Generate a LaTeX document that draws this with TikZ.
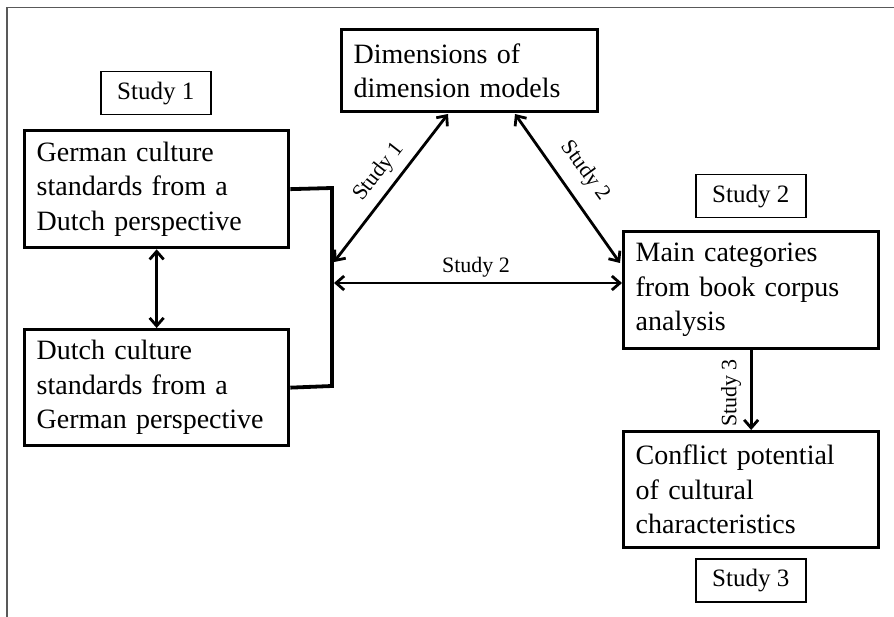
\documentclass[tikz,border=0pt]{standalone}
\usepackage{fontspec}
\setmainfont{Liberation Serif}
\usetikzlibrary{arrows.meta}
\begin{document}
\begin{tikzpicture}[x=1pt,y=-1pt,
  bigbox/.style={draw, line width=3.3pt, anchor=north west, align=left, inner xsep=12pt, inner ysep=0pt, font=\fontsize{28}{34.5}\selectfont},
  tagbox/.style={draw, line width=1.5pt, anchor=north west, minimum width=110pt, minimum height=43pt, inner sep=0pt, font=\fontsize{25}{30}\selectfont},
  tipb/.tip={Straight Barb[length=8pt,width=14pt,line width=2.8pt]},
  conn/.style={line width=2.8pt, tipb-tipb},
  conn1/.style={line width=2.8pt, -tipb},
  lab/.style={font=\fontsize{22}{26}\selectfont, inner sep=0pt}]
\useasboundingbox (0,0) rectangle (894,617);
% frame
\draw[black!65, line width=1.3pt] (7,617) -- (7,7.5) -- (894,7.5);
% tag boxes
\node[tagbox] (t1) at (100,71) {Study 1};
\node[tagbox] (t2) at (695,174) {Study 2};
\node[tagbox] (t3) at (695,558) {Study 3};
% main boxes
\node[bigbox, text width=240pt, minimum height=117pt] (g) at (23,129) {German culture\\standards from a\\Dutch perspective};
\node[bigbox, text width=240pt, minimum height=116pt] (d) at (23,328) {Dutch culture\\standards from a\\German perspective};
\node[bigbox, text width=232pt, minimum height=82pt] (dm) at (340,28) {Dimensions of\\dimension models};
\node[bigbox, text width=231pt, minimum height=117pt] (m) at (622,230) {Main categories\\from book corpus\\analysis};
\node[bigbox, text width=231pt, minimum height=116pt] (c) at (622,430) {Conflict potential\\of cultural\\characteristics};
% bracket
\coordinate (jt) at (332,188);
\coordinate (jb) at (332,386);
\draw[line width=3.8pt] (g.east) -- (jt) -- (jb) -- (d.east);
% vertical double arrow
\draw[conn] (g) -- (d);
% study 1 diagonal
\coordinate (a1s) at (334,262);
\coordinate (a1e) at (448,114);
\draw[conn] (a1s) -- (a1e);
\node[lab, rotate=52] (l1) at (379,172) {Study 1};
% horizontal
\coordinate (h1) at (334,283);
\draw[conn] (h1) -- (h1 -| m.west);
\node[lab, anchor=base] (l2) at (476,273) {Study 2};
% study 2 diagonal
\coordinate (a2s) at (515,114);
\coordinate (a2e) at (620,263);
\draw[conn] (a2s) -- (a2e);
\node[lab, rotate=-54] (l3) at (585,171) {Study 2};
% study 3
\draw[conn1] (m) -- (c);
\node[lab, rotate=90] (l4) at (731,393) {Study 3};
\end{tikzpicture}
\end{document}
